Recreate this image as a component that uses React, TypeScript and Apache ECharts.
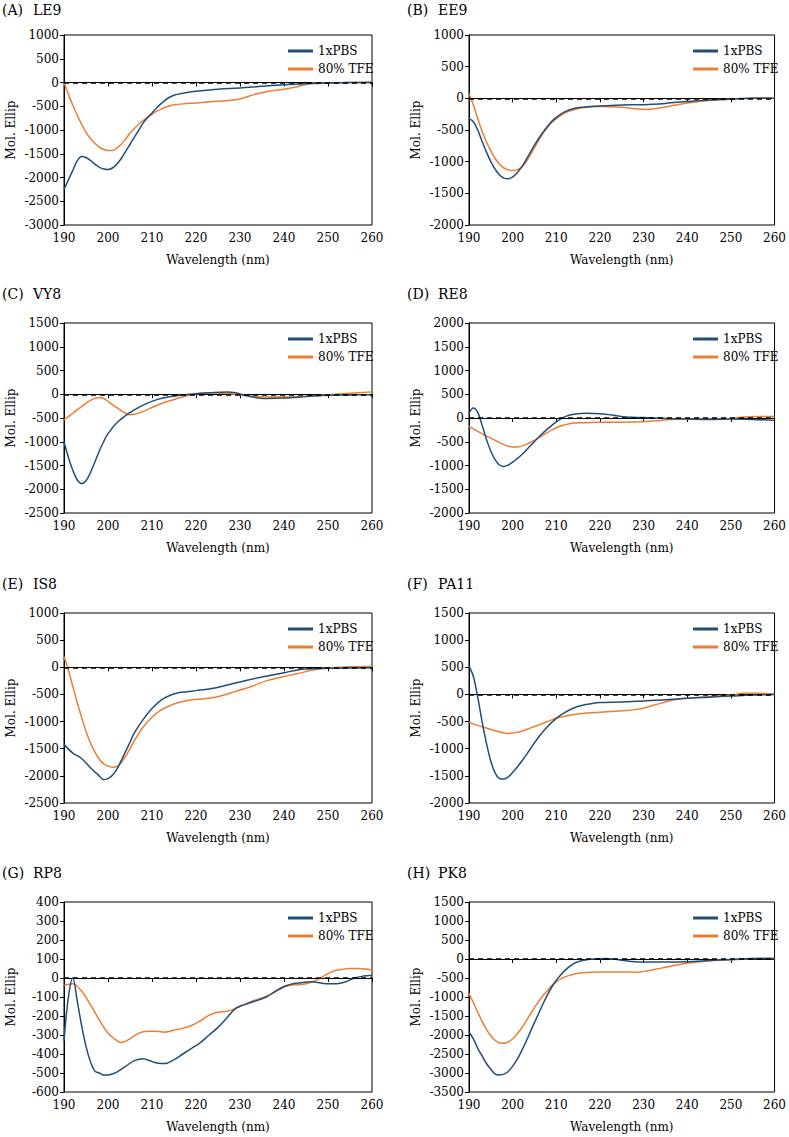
import React, { useEffect, useRef } from "react";
import * as echarts from "echarts";

const FONT = "DejaVu Serif";
const BLUE = "#1F4E79";
const ORANGE = "#ED7D31";

const SERIES_NAMES = ["1xPBS", "80% TFE"];
const X_RANGE = [190, 260, 10];

// (A) LE9
const LE9_PBS = [[190,-2250],[191,-2050],[192,-1850],[193,-1650],[194,-1560],[195,-1580],[196,-1640],[197,-1720],[198,-1780],[199,-1820],[200,-1830],[201,-1800],[202,-1720],[203,-1600],[204,-1450],[205,-1300],[206,-1150],[207,-1000],[208,-850],[209,-740],[210,-640],[211,-540],[212,-450],[213,-370],[214,-310],[215,-270],[216,-245],[218,-210],[220,-185],[225,-140],[230,-117],[235,-80],[240,-47],[245,-25],[250,-12],[255,0],[260,0]];
const LE9_TFE = [[190,0],[191,-250],[192,-480],[193,-690],[194,-880],[195,-1050],[196,-1180],[197,-1280],[198,-1360],[199,-1410],[200,-1430],[201,-1430],[202,-1380],[203,-1300],[204,-1190],[205,-1070],[206,-970],[207,-880],[208,-800],[209,-730],[210,-670],[211,-610],[212,-560],[213,-520],[214,-490],[215,-470],[217,-450],[220,-430],[225,-395],[229,-365],[231,-320],[233,-260],[235,-215],[237,-180],[240,-140],[243,-90],[245,-40],[247,-10],[250,-8],[255,0],[260,5]];

// (B) EE9
const EE9_PBS = [[190,-316],[191,-370],[192,-500],[193,-680],[194,-850],[195,-1000],[196,-1120],[197,-1210],[198,-1260],[199,-1270],[200,-1240],[201,-1180],[202,-1090],[203,-980],[204,-860],[205,-740],[206,-630],[207,-530],[208,-440],[209,-360],[210,-300],[212,-210],[214,-160],[216,-140],[220,-120],[225,-105],[230,-100],[235,-80],[240,-50],[245,-25],[250,-10],[255,0],[260,0]];
const EE9_TFE = [[190,70],[191,-100],[192,-320],[193,-520],[194,-690],[195,-830],[196,-950],[197,-1040],[198,-1100],[199,-1130],[200,-1140],[201,-1130],[202,-1090],[203,-1010],[204,-900],[205,-780],[206,-660],[207,-550],[208,-460],[209,-380],[210,-320],[212,-230],[214,-180],[216,-150],[220,-130],[225,-140],[228,-165],[231,-175],[234,-150],[237,-110],[240,-75],[245,-35],[250,-15],[255,5],[257,10],[260,0]];

// (C) VY8
const VY8_PBS = [[190,-1000],[191,-1330],[192,-1600],[193,-1800],[194,-1880],[195,-1820],[196,-1650],[197,-1430],[198,-1200],[199,-1000],[200,-830],[202,-600],[204,-450],[206,-330],[208,-230],[210,-150],[212,-90],[215,-40],[218,-5],[220,10],[223,30],[227,50],[229,30],[231,-20],[233,-60],[236,-90],[240,-80],[245,-50],[250,-20],[255,-15],[260,-10]];
const VY8_TFE = [[190,-540],[192,-400],[194,-260],[196,-130],[198,-70],[199,-90],[200,-150],[202,-280],[204,-400],[205,-430],[206,-420],[208,-360],[210,-280],[212,-200],[215,-110],[218,-30],[220,10],[223,30],[226,20],[229,0],[231,-20],[234,-50],[237,-60],[240,-60],[245,-40],[250,-10],[255,20],[260,50]];

// (D) RE8
const RE8_PBS = [[190,100],[191,210],[192,120],[193,-150],[194,-450],[195,-700],[196,-880],[197,-990],[198,-1020],[199,-990],[200,-930],[202,-780],[204,-590],[206,-400],[208,-230],[210,-80],[212,30],[214,80],[217,100],[220,90],[223,60],[226,20],[230,10],[235,-10],[240,-20],[245,-30],[250,-20],[255,-30],[260,-50]];
const RE8_TFE = [[190,-175],[192,-280],[194,-380],[196,-470],[198,-560],[200,-610],[201,-610],[203,-560],[205,-470],[207,-360],[209,-250],[211,-170],[213,-120],[216,-100],[220,-90],[225,-90],[230,-80],[233,-60],[236,-30],[240,-20],[245,-20],[250,-10],[253,20],[256,30],[260,30]];

// (E) IS8
const IS8_PBS = [[190,-1420],[192,-1580],[194,-1680],[196,-1850],[198,-2000],[199,-2070],[200,-2050],[201,-1990],[202,-1880],[203,-1720],[204,-1550],[205,-1380],[206,-1210],[208,-960],[210,-760],[212,-610],[214,-520],[216,-470],[218,-450],[220,-430],[223,-400],[226,-350],[230,-270],[235,-180],[240,-100],[243,-50],[245,-30],[250,-20],[255,-15],[260,-10]];
const IS8_TFE = [[190,200],[191,-50],[192,-350],[193,-650],[194,-920],[195,-1180],[196,-1390],[197,-1560],[198,-1690],[199,-1780],[200,-1820],[201,-1840],[202,-1830],[203,-1760],[204,-1640],[205,-1500],[206,-1350],[208,-1100],[210,-920],[212,-790],[214,-710],[216,-650],[218,-610],[220,-590],[223,-570],[226,-520],[228,-470],[230,-420],[233,-340],[236,-250],[240,-170],[243,-120],[246,-60],[250,-10],[255,10],[260,20]];

// (F) PA11
const PA11_PBS = [[190,520],[191,330],[192,-50],[193,-500],[194,-900],[195,-1230],[196,-1450],[197,-1550],[198,-1560],[199,-1520],[200,-1440],[202,-1240],[204,-1010],[206,-780],[208,-590],[210,-440],[212,-330],[214,-250],[216,-200],[218,-170],[220,-150],[225,-140],[230,-120],[235,-100],[240,-70],[245,-50],[250,-30],[255,-10],[260,0]];
const PA11_TFE = [[190,-510],[192,-570],[194,-620],[196,-670],[198,-710],[199,-720],[200,-710],[202,-680],[204,-620],[206,-560],[208,-500],[210,-440],[212,-400],[214,-370],[216,-350],[220,-330],[225,-300],[228,-280],[231,-230],[234,-160],[237,-100],[240,-70],[245,-40],[250,-10],[253,20],[256,20],[260,10]];

// (G) RP8
const RP8_PBS = [[190,-330],[191,-100],[192,0],[193,-120],[194,-250],[195,-360],[196,-440],[197,-490],[198,-500],[199,-510],[200,-510],[201,-505],[202,-495],[204,-465],[206,-435],[208,-425],[210,-440],[212,-450],[213,-450],[215,-430],[217,-400],[219,-370],[221,-340],[223,-300],[225,-260],[227,-210],[229,-160],[231,-140],[233,-125],[236,-100],[238,-70],[240,-45],[242,-30],[244,-25],[246,-20],[248,-25],[250,-30],[252,-30],[254,-20],[256,0],[258,10],[260,15]];
const RP8_TFE = [[190,-40],[192,-30],[194,-70],[196,-140],[198,-220],[200,-290],[202,-330],[203,-340],[205,-320],[207,-290],[209,-280],[211,-280],[213,-285],[215,-275],[217,-265],[219,-250],[221,-225],[223,-195],[225,-180],[227,-175],[229,-160],[231,-140],[233,-120],[235,-105],[237,-85],[239,-60],[241,-40],[243,-35],[245,-30],[247,-15],[249,10],[251,35],[253,45],[255,50],[257,50],[260,42]];

// (H) PK8
const PK8_PBS = [[190,-1920],[191,-2100],[192,-2350],[193,-2550],[194,-2750],[195,-2900],[196,-3030],[197,-3050],[198,-3030],[199,-2960],[200,-2820],[201,-2650],[202,-2430],[203,-2190],[204,-1930],[205,-1670],[206,-1420],[207,-1170],[208,-940],[209,-730],[210,-560],[211,-420],[212,-300],[213,-200],[214,-120],[215,-70],[217,-20],[219,0],[221,10],[223,0],[225,-30],[228,-70],[232,-80],[236,-80],[240,-70],[245,-40],[250,-10],[255,10],[260,10]];
const PK8_TFE = [[190,-900],[191,-1150],[192,-1400],[193,-1640],[194,-1850],[195,-2020],[196,-2140],[197,-2210],[198,-2220],[199,-2180],[200,-2100],[201,-1980],[202,-1830],[203,-1650],[204,-1460],[205,-1280],[206,-1110],[207,-960],[208,-830],[209,-700],[210,-600],[212,-470],[214,-400],[216,-360],[220,-340],[225,-340],[228,-350],[231,-310],[234,-240],[237,-170],[240,-110],[243,-70],[246,-40],[250,-20],[255,10],[258,20],[260,10]];

// y-axis ranges: [min, max, interval]
const Y_LE9 = [-3000, 1000, 500];
const Y_EE9 = [-2000, 1000, 500];
const Y_VY8 = [-2500, 1500, 500];
const Y_RE8 = [-2000, 2000, 500];
const Y_IS8 = [-2500, 1000, 500];
const Y_PA11 = [-2000, 1500, 500];
const Y_RP8 = [-600, 400, 100];
const Y_PK8 = [-3500, 1500, 500];

const LETTERS = ["(A)", "(B)", "(C)", "(D)", "(E)", "(F)", "(G)", "(H)"];
const NAMES = ["LE9", "EE9", "VY8", "RE8", "IS8", "PA11", "RP8", "PK8"];
const PBS = [LE9_PBS, EE9_PBS, VY8_PBS, RE8_PBS, IS8_PBS, PA11_PBS, RP8_PBS, PK8_PBS];
const TFE = [LE9_TFE, EE9_TFE, VY8_TFE, RE8_TFE, IS8_TFE, PA11_TFE, RP8_TFE, PK8_TFE];
const YR = [Y_LE9, Y_EE9, Y_VY8, Y_RE8, Y_IS8, Y_PA11, Y_RP8, Y_PK8];

const COL_LEFT = [64, 469];
const COL_WIDTH = [308, 307];
const ROW_TOP = [35, 323, 613, 902];
const PLOT_H = 190;
const TITLE_TOP = [3, 287, 577, 866];
const TITLE_LEFT = [2, 407];

function buildOption() {
  const grid: any[] = [];
  const xAxis: any[] = [];
  const yAxis: any[] = [];
  const series: any[] = [];
  const legend: any[] = [];
  const graphic: any[] = [];
  const label = { fontFamily: FONT, fontSize: 12, color: "#000" };
  const fmt = (v: number) => String(v);

  for (let i = 0; i < 8; i++) {
    const col = i % 2;
    const row = Math.floor(i / 2);
    const left = COL_LEFT[col];
    const top = ROW_TOP[row];
    grid.push({
      left,
      top,
      width: COL_WIDTH[col],
      height: PLOT_H,
      show: true,
      borderColor: "#000",
      borderWidth: 1,
      containLabel: false,
    });
    xAxis.push({
      type: "value",
      gridIndex: i,
      min: X_RANGE[0],
      max: X_RANGE[1],
      interval: X_RANGE[2],
      name: "Wavelength (nm)",
      nameLocation: "middle",
      nameGap: 29,
      nameTextStyle: label,
      axisLine: { lineStyle: { color: "#000", width: 1 } },
      axisTick: { show: true, inside: false, length: 4, lineStyle: { color: "#000" } },
      axisLabel: { ...label, margin: 7, formatter: fmt },
      splitLine: { show: false },
    });
    yAxis.push({
      type: "value",
      gridIndex: i,
      min: YR[i][0],
      max: YR[i][1],
      interval: YR[i][2],
      name: "Mol. Ellip",
      nameLocation: "middle",
      nameGap: 47,
      nameTextStyle: label,
      axisLine: { lineStyle: { color: "#000", width: 1 } },
      axisTick: { show: true, inside: false, length: 4, lineStyle: { color: "#000" } },
      axisLabel: { ...label, margin: 5, formatter: fmt },
      splitLine: { show: false },
    });
    series.push({
      type: "line",
      name: SERIES_NAMES[0],
      xAxisIndex: i,
      yAxisIndex: i,
      data: PBS[i],
      smooth: 0.35,
      symbol: "none",
      lineStyle: { color: BLUE, width: 1.5 },
      itemStyle: { color: BLUE },
      z: 3,
      markLine: {
        silent: true,
        symbol: ["none", "none"],
        label: { show: false },
        lineStyle: { color: "#000", type: [5, 4], width: 1.5 },
        data: [{ yAxis: 0 }],
      },
    });
    series.push({
      type: "line",
      name: SERIES_NAMES[1],
      xAxisIndex: i,
      yAxisIndex: i,
      data: TFE[i],
      smooth: 0.35,
      symbol: "none",
      lineStyle: { color: ORANGE, width: 1.5 },
      itemStyle: { color: ORANGE },
      z: 2,
    });
    legend.push({
      data: SERIES_NAMES.map((n) => ({ name: n, icon: "rect" })),
      orient: "vertical",
      left: left + 219,
      top: top + 5,
      itemWidth: 25,
      itemHeight: 3,
      itemGap: 6,
      selectedMode: false,
      textStyle: label,
    });
    graphic.push({
      type: "text",
      left: TITLE_LEFT[col],
      top: TITLE_TOP[row],
      style: { text: LETTERS[i], fontFamily: FONT, fontSize: 14, fill: "#000" },
    });
    graphic.push({
      type: "text",
      left: TITLE_LEFT[col] + 31,
      top: TITLE_TOP[row],
      style: { text: NAMES[i], fontFamily: FONT, fontSize: 14, fill: "#000" },
    });
  }

  return {
    animation: false,
    backgroundColor: "#fff",
    textStyle: { fontFamily: FONT },
    grid,
    xAxis,
    yAxis,
    series,
    legend,
    graphic,
  };
}

export default function App() {
  const ref = useRef<HTMLDivElement>(null);
  useEffect(() => {
    if (!ref.current) return;
    const chart = echarts.init(ref.current, undefined, { renderer: "svg" });
    chart.setOption(buildOption());
    return () => chart.dispose();
  }, []);
  return (
    <div
      ref={ref}
      style={{ position: "absolute", left: 0, top: 0, width: 789, height: 1137 }}
    />
  );
}
